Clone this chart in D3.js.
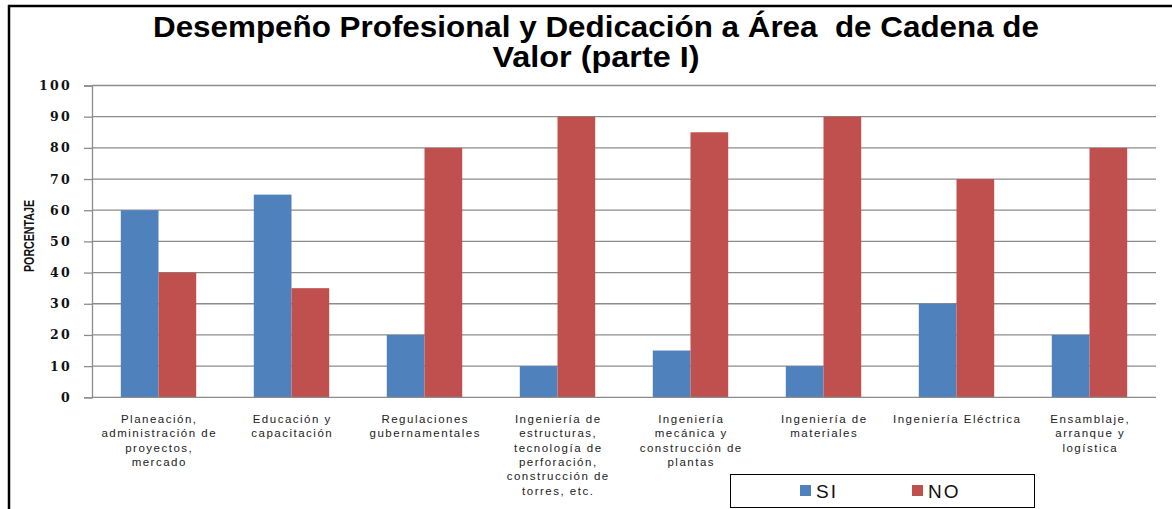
<!DOCTYPE html>
<html><head><meta charset="utf-8">
<script src="https://cdn.jsdelivr.net/npm/d3@7"></script>
<style>body{margin:0;background:#fff;}svg{display:block;} text{white-space:pre;}</style>
</head><body><svg id="c" width="1172" height="509"></svg>
<script>
const categories = [
  "Planeación,\nadministración de\nproyectos,\nmercado",
  "Educación y\ncapacitación",
  "Regulaciones\ngubernamentales",
  "Ingeniería de\nestructuras,\ntecnología de\nperforación,\nconstrucción de\ntorres, etc.",
  "Ingeniería\nmecánica y\nconstrucción de\nplantas",
  "Ingeniería de\nmateriales",
  "Ingeniería Eléctrica",
  "Ensamblaje,\narranque y\nlogística"
];
const seriesNames = ["SI", "NO"];
const siValues = [60, 65, 20, 10, 15, 10, 30, 20];
const noValues = [40, 35, 80, 90, 85, 90, 70, 80];
const yTicks = [0, 10, 20, 30, 40, 50, 60, 70, 80, 90, 100];
const titleLines = ["Desempeño Profesional y Dedicación a Área  de Cadena de", "Valor (parte I)"];
const yLabel = "PORCENTAJE";
const colors = ["#4F81BD", "#C0504D"];

const svg = d3.select("#c");
const plot = {left: 92, right: 1156, top: 85.5, bottom: 397.3};

// frame
svg.append("line").attr("x1", 8).attr("x2", 1172).attr("y1", 6).attr("y2", 6).attr("stroke", "#000").attr("stroke-width", 2.5);
svg.append("line").attr("x1", 9).attr("x2", 9).attr("y1", 5).attr("y2", 509).attr("stroke", "#000").attr("stroke-width", 2.5);

// title
const title = svg.append("g").attr("font-family", "Liberation Sans, Arial, sans-serif").attr("font-weight", "bold").attr("fill", "#000").attr("text-anchor", "middle");
title.append("text").attr("x", 596).attr("y", 37).attr("font-size", 30).attr("textLength", 886).attr("lengthAdjust", "spacingAndGlyphs").text(titleLines[0]);
title.append("text").attr("x", 596).attr("y", 67).attr("font-size", 30).attr("textLength", 207).attr("lengthAdjust", "spacingAndGlyphs").text(titleLines[1]);

const y = d3.scaleLinear().domain([0, 100]).range([plot.bottom, plot.top]);
const x0 = d3.scaleBand().domain(d3.range(categories.length)).range([plot.left, plot.right]).paddingInner(0.433).paddingOuter(0.2165);
const x1 = d3.scaleBand().domain(seriesNames).range([0, x0.bandwidth()]);

// gridlines
svg.append("g").selectAll("line").data(yTicks.filter(d => d > 0)).join("line")
  .attr("x1", plot.left).attr("x2", plot.right)
  .attr("y1", d => y(d)).attr("y2", d => y(d))
  .attr("stroke", "#8c8c8c").attr("stroke-width", 1.3);

// y axis
const yAxis = svg.append("g").attr("transform", `translate(${plot.left},0)`)
  .call(d3.axisLeft(y).tickValues(yTicks).tickSize(8).tickPadding(12));
yAxis.select(".domain").attr("stroke", "#8c8c8c").attr("stroke-width", 1.3);
yAxis.selectAll(".tick line").attr("stroke", "#8c8c8c").attr("stroke-width", 1.3);
yAxis.selectAll(".tick text").attr("font-family", "DejaVu Serif, serif").attr("font-weight", "bold")
  .attr("font-size", 12.5).attr("fill", "#111").attr("letter-spacing", "2.3px");

// y label
svg.append("text").attr("transform", "translate(34,236) rotate(-90)").attr("text-anchor", "middle")
  .attr("font-family", "Liberation Sans, Arial, sans-serif").attr("font-weight", "bold").attr("font-size", 15)
  .attr("textLength", 72).attr("lengthAdjust", "spacingAndGlyphs").attr("fill", "#111").text(yLabel);

// bars
const data = categories.map((c, i) => ({i, vals: [siValues[i], noValues[i]]}));
const groups = svg.append("g").selectAll("g").data(data).join("g").attr("transform", d => `translate(${x0(d.i)},0)`);
groups.selectAll("rect").data(d => d.vals.map((v, k) => ({k, v}))).join("rect")
  .attr("x", d => x1(seriesNames[d.k])).attr("width", x1.bandwidth())
  .attr("y", d => y(d.v)).attr("height", d => y(0) - y(d.v))
  .attr("fill", d => colors[d.k]);

// x axis line
svg.append("line").attr("x1", plot.left).attr("x2", plot.right).attr("y1", y(0)).attr("y2", y(0))
  .attr("stroke", "#8c8c8c").attr("stroke-width", 1.3);

// x labels
const xl = svg.append("g").attr("font-family", "Liberation Sans, Arial, sans-serif").attr("font-size", 11.5)
  .attr("fill", "#222").attr("text-anchor", "middle").attr("letter-spacing", "1.5px");
categories.forEach((c, i) => {
  const cx = x0(i) + x0.bandwidth() / 2 + 0.75;
  const t = xl.append("text").attr("x", cx).attr("y", 423);
  c.split("\n").forEach((ln, j) => t.append("tspan").attr("x", cx).attr("dy", j === 0 ? 0 : 14.3).text(ln));
});

// legend
const lg = svg.append("g");
lg.append("rect").attr("x", 730.5).attr("y", 474.5).attr("width", 304).attr("height", 33).attr("fill", "#fff").attr("stroke", "#000").attr("stroke-width", 1);
const legX = [800, 912];
seriesNames.forEach((s, k) => {
  lg.append("rect").attr("x", legX[k]).attr("y", 485).attr("width", 11).attr("height", 11).attr("fill", colors[k]);
  lg.append("text").attr("x", legX[k] + 16).attr("y", 497.5).attr("font-family", "Liberation Sans, Arial, sans-serif")
    .attr("font-size", 19).attr("fill", "#111").attr("letter-spacing", "2px").text(s);
});
</script></body></html>
